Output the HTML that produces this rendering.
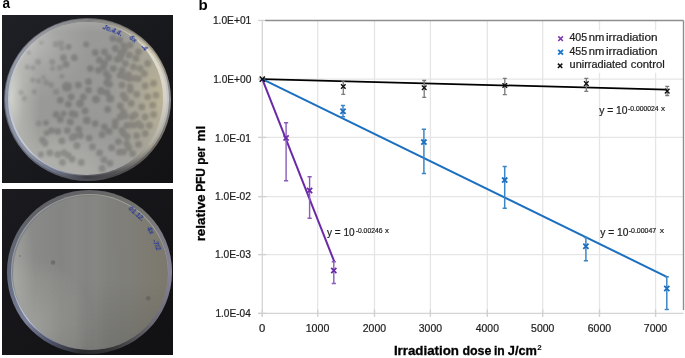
<!DOCTYPE html>
<html><head><meta charset="utf-8"><style>
html,body{margin:0;padding:0;background:#fff;width:685px;height:358px;overflow:hidden}
svg{position:absolute;left:0;top:0;display:block;font-family:"Liberation Sans", sans-serif;will-change:transform}
</style></head><body>
<div style="position:absolute;left:2px;top:15px;width:171px;height:167.5px;background:linear-gradient(135deg,#1f2026,#121214)"></div>
<div style="position:absolute;left:2px;top:189px;width:171px;height:166px;background:linear-gradient(135deg,#1a1a1f,#111113)"></div>
<div style="position:absolute;left:0;top:0;width:685px;height:358px;filter:blur(0.5px)">
<div style="position:absolute;left:3.50px;top:17.50px;width:167.40px;height:163.00px;border-radius:50%;background:conic-gradient(from 0deg,#626266 0deg,#767470 30deg,#9a9482 55deg,#8a8886 90deg,#6a6860 125deg,#48484c 160deg,#4a4a52 180deg,#5a5e6a 205deg,#6a6e7c 228deg,#5a6070 270deg,#686a72 315deg,#646468 360deg)"></div>
<div style="position:absolute;left:5.00px;top:19.00px;width:164.40px;height:160.00px;border-radius:50%;background:conic-gradient(from 0deg,#7e7e80 0deg,#a09c8e 30deg,#c8c2ac 55deg,#c4c4ca 90deg,#a09c92 125deg,#505054 160deg,#3e3e44 180deg,#70768a 205deg,#8e94a6 228deg,#8a92a2 270deg,#9a9ca4 315deg,#848486 360deg)"></div>
<div style="position:absolute;left:8.40px;top:21.90px;width:158.20px;height:153.80px;border-radius:50%;background:conic-gradient(from 0deg,#a2a2a0 0deg,#c0bcac 30deg,#e0dccc 55deg,#d4d2c8 90deg,#b0ac9e 125deg,#606064 160deg,#58585e 180deg,#a8aec0 205deg,#c8ccda 228deg,#c0c6d2 270deg,#c4c6ca 315deg,#a8a8a6 360deg)"></div>
<div style="position:absolute;left:10.00px;top:22.00px;width:152.60px;height:152.60px;border-radius:50%;background:radial-gradient(ellipse 36% 72% at 100% 48%, rgba(194,184,150,0.85), rgba(194,184,150,0.4) 45%, rgba(194,184,150,0) 100%),radial-gradient(ellipse 20% 70% at 0% 48%, rgba(214,214,208,0.95), rgba(214,214,208,0.35) 45%, rgba(214,214,208,0) 100%),radial-gradient(ellipse 40% 40% at 12% 12%, rgba(200,200,198,0.75), rgba(200,200,198,0.25) 50%, rgba(200,200,198,0) 100%),radial-gradient(ellipse 40% 30% at 22% 92%, rgba(186,186,180,0.6), rgba(186,186,180,0) 100%),radial-gradient(ellipse 55% 30% at 45% 100%, rgba(184,184,180,0.55), rgba(184,184,180,0) 100%),radial-gradient(ellipse 45% 7% at 50% 0%, rgba(170,170,168,0.7), rgba(170,170,168,0) 100%),#999997"></div>
<div style="position:absolute;left:7.00px;top:190.40px;width:165.00px;height:163.60px;border-radius:50%;background:conic-gradient(from 0deg,#646466 0deg,#74746f 40deg,#86849a 90deg,#6a6870 130deg,#343436 165deg,#2a2a2c 185deg,#50546a 210deg,#7a8098 232deg,#62687a 270deg,#606268 315deg,#646466 360deg)"></div>
<div style="position:absolute;left:10.60px;top:194.00px;width:157.80px;height:156.40px;border-radius:50%;background:conic-gradient(from 0deg,#9a9a94 0deg,#a8a8a0 40deg,#a8a6b4 90deg,#8a8890 130deg,#4a4a4c 165deg,#3a3a3c 185deg,#8a90a8 210deg,#c8cce0 232deg,#9a9ea4 270deg,#9a9c9c 315deg,#9a9a94 360deg)"></div>
<div style="position:absolute;left:12.10px;top:195.20px;width:155.40px;height:154.00px;border-radius:50%;background:conic-gradient(from 0deg,#7c7c78 0deg,#86847c 40deg,#8a8890 90deg,#7a7880 130deg,#404042 165deg,#303032 185deg,#6a7088 210deg,#9ca0b4 232deg,#80848c 270deg,#80828a 315deg,#7c7c78 360deg)"></div>
<div style="position:absolute;left:13.00px;top:195.50px;width:155.00px;height:154.60px;border-radius:50%;background:linear-gradient(90deg, rgba(255,255,255,0) 30%, rgba(255,255,255,0.045) 40%, rgba(255,255,255,0.02) 47%, rgba(255,255,255,0.045) 53%, rgba(255,255,255,0) 62%),radial-gradient(ellipse 40% 45% at 12% 85%, rgba(178,178,172,0.6), rgba(178,178,172,0) 100%),radial-gradient(ellipse 14% 60% at 0% 55%, rgba(180,180,176,0.6), rgba(180,180,176,0) 100%),linear-gradient(180deg, rgba(0,0,0,0) 55%, rgba(0,0,0,0.10) 100%),linear-gradient(90deg, #8e8e8c 0%, #838381 35%, #80807c 65%, #7c786c 100%)"></div>
</div>
<svg width="685" height="358" viewBox="0 0 685 358">
<defs>
<linearGradient id="bg1" x1="0" y1="0" x2="1" y2="1">
 <stop offset="0" stop-color="#1f2026"/><stop offset="1" stop-color="#121214"/>
</linearGradient>
<linearGradient id="bg2" x1="0" y1="0" x2="1" y2="1">
 <stop offset="0" stop-color="#1a1a1f"/><stop offset="1" stop-color="#111113"/>
</linearGradient>
<linearGradient id="rimg1" x1="0" y1="0.3" x2="1" y2="0.7">
 <stop offset="0" stop-color="#8a90a0"/><stop offset="0.5" stop-color="#a8a8a6"/><stop offset="1" stop-color="#c4bc9e"/>
</linearGradient>
<linearGradient id="rimh1" x1="0" y1="0.3" x2="1" y2="0.7">
 <stop offset="0" stop-color="#c8d0e0"/><stop offset="0.5" stop-color="#c0c0bc"/><stop offset="1" stop-color="#e0d8bc"/>
</linearGradient>
<linearGradient id="rimg2" x1="0" y1="0.3" x2="1" y2="0.7">
 <stop offset="0" stop-color="#8a90a0"/><stop offset="0.5" stop-color="#a4a4a2"/><stop offset="1" stop-color="#b8b49e"/>
</linearGradient>
<linearGradient id="rimh2" x1="0" y1="0.3" x2="1" y2="0.7">
 <stop offset="0" stop-color="#c8d0e0"/><stop offset="0.5" stop-color="#c0c0bc"/><stop offset="1" stop-color="#d8d4bc"/>
</linearGradient>
<radialGradient id="agar1" cx="0.3" cy="0.75" r="0.9">
 <stop offset="0" stop-color="#c6c5b8"/><stop offset="0.6" stop-color="#b0afaa"/><stop offset="1" stop-color="#a6a6a4"/>
</radialGradient>
<radialGradient id="agar2" cx="0.45" cy="0.75" r="0.85">
 <stop offset="0" stop-color="#b6b5a8"/><stop offset="1" stop-color="#a2a29f"/>
</radialGradient>
<clipPath id="clip1"><ellipse cx="86.3" cy="98.3" rx="76.3" ry="76.3"/></clipPath>
<filter id="hblur" x="-20%" y="-20%" width="140%" height="140%"><feGaussianBlur stdDeviation="0.35"/></filter>
<filter id="sblur" x="-50%" y="-50%" width="200%" height="200%"><feGaussianBlur stdDeviation="0.6"/></filter>
<filter id="pblur" x="-10%" y="-10%" width="120%" height="120%"><feGaussianBlur stdDeviation="1.0"/></filter>
</defs>
<g clip-path="url(#clip1)"><g filter="url(#pblur)" opacity="0.17" fill="#303034"><circle cx="41.4" cy="42.7" r="2.0"/><circle cx="55.6" cy="44.3" r="3.0"/><circle cx="28.8" cy="52.7" r="2.0"/><circle cx="38" cy="62" r="3.0"/><circle cx="52.3" cy="62" r="3.0"/><circle cx="27.1" cy="67" r="2.5"/><circle cx="33" cy="67.8" r="2.5"/><circle cx="59.8" cy="67.8" r="3.0"/><circle cx="60.9" cy="43.5" r="3.0"/><circle cx="61.8" cy="48.2" r="2.5"/><circle cx="52.5" cy="68.6" r="2.5"/><circle cx="61.8" cy="76.2" r="2.5"/><circle cx="32.6" cy="80" r="2.5"/><circle cx="38.5" cy="80.9" r="2.5"/><circle cx="43.5" cy="77.5" r="2.0"/><circle cx="46" cy="82.6" r="3.0"/><circle cx="51.1" cy="85.1" r="3.0"/><circle cx="56.1" cy="91.8" r="3.0"/><circle cx="20.9" cy="92.6" r="2.5"/><circle cx="34.3" cy="91.8" r="2.5"/><circle cx="24.3" cy="98.5" r="2.5"/><circle cx="38.5" cy="123.6" r="3.0"/></g><g filter="url(#pblur)" opacity="0.25" fill="#303034"><circle cx="68.5" cy="46.8" r="2.9"/><circle cx="86.1" cy="44.3" r="2.9"/><circle cx="63.4" cy="57.7" r="3.4"/><circle cx="66" cy="64.4" r="3.4"/><circle cx="74.3" cy="57.7" r="3.4"/><circle cx="90.3" cy="68.6" r="3.4"/><circle cx="95.3" cy="52.7" r="3.4"/><circle cx="99.5" cy="60.2" r="3.4"/><circle cx="104.5" cy="51.9" r="3.4"/><circle cx="108.7" cy="57.7" r="3.4"/><circle cx="104.5" cy="63.3" r="3.4"/><circle cx="98.6" cy="70.3" r="3.4"/><circle cx="106.2" cy="73.6" r="3.4"/><circle cx="112.9" cy="38.4" r="3.4"/><circle cx="115.4" cy="48.5" r="3.4"/><circle cx="119.6" cy="40.1" r="3.4"/><circle cx="121.3" cy="53.5" r="3.9"/><circle cx="117.1" cy="59.4" r="3.4"/><circle cx="123.8" cy="46" r="3.4"/><circle cx="125.5" cy="63.6" r="3.4"/><circle cx="122.1" cy="70.3" r="3.4"/><circle cx="124.3" cy="49.3" r="3.4"/><circle cx="130.2" cy="45.1" r="3.4"/><circle cx="120.1" cy="58.5" r="3.4"/><circle cx="129.3" cy="55.2" r="3.4"/><circle cx="136" cy="58.5" r="3.4"/><circle cx="138.5" cy="51.8" r="3.4"/><circle cx="103.4" cy="66.9" r="3.4"/><circle cx="113.4" cy="68.6" r="3.4"/><circle cx="133.5" cy="66.9" r="3.4"/><circle cx="140.2" cy="68.6" r="3.4"/><circle cx="108.4" cy="76.9" r="3.4"/><circle cx="120.1" cy="75.3" r="3.4"/><circle cx="129.3" cy="78.6" r="3.4"/><circle cx="138.5" cy="78.6" r="3.4"/><circle cx="144.4" cy="73.6" r="3.4"/><circle cx="147.7" cy="63.5" r="3.4"/><circle cx="106.7" cy="82.8" r="3.4"/><circle cx="67" cy="86.8" r="4.9"/><circle cx="60.3" cy="100.2" r="3.4"/><circle cx="71.2" cy="96.8" r="3.4"/><circle cx="56.1" cy="114.4" r="3.4"/><circle cx="63.6" cy="113.6" r="2.9"/><circle cx="46" cy="122.8" r="2.9"/><circle cx="60.3" cy="119.4" r="3.4"/><circle cx="70.3" cy="121.9" r="3.4"/><circle cx="72" cy="113.6" r="3.4"/><circle cx="78.4" cy="85.1" r="3.4"/><circle cx="88.5" cy="81.7" r="3.4"/><circle cx="88.5" cy="90.1" r="3.4"/><circle cx="109.4" cy="84.2" r="3.4"/><circle cx="101" cy="90.9" r="3.9"/><circle cx="106.9" cy="92.6" r="3.4"/><circle cx="110.2" cy="98.5" r="3.9"/><circle cx="96" cy="99.3" r="3.9"/><circle cx="83.4" cy="96.8" r="3.4"/><circle cx="80.1" cy="103.5" r="3.9"/><circle cx="68.4" cy="104.3" r="3.4"/><circle cx="85.1" cy="111" r="3.4"/><circle cx="75" cy="114.4" r="3.4"/><circle cx="107.7" cy="109.4" r="3.4"/><circle cx="120.3" cy="106" r="3.4"/><circle cx="125.3" cy="98.5" r="3.4"/><circle cx="122" cy="85.1" r="3.4"/><circle cx="128.7" cy="75" r="3.4"/><circle cx="130.3" cy="90.1" r="3.4"/><circle cx="131.2" cy="103.5" r="3.4"/><circle cx="86.8" cy="120.3" r="3.9"/><circle cx="95.2" cy="123.6" r="3.4"/><circle cx="104.4" cy="127" r="3.4"/><circle cx="115.3" cy="121.9" r="3.4"/><circle cx="120.3" cy="116.9" r="3.4"/><circle cx="127" cy="125.3" r="3.4"/><circle cx="132" cy="116.9" r="3.4"/><circle cx="125" cy="76.7" r="3.4"/><circle cx="135.1" cy="78.4" r="3.4"/><circle cx="130.1" cy="86.8" r="3.4"/><circle cx="145.2" cy="85.9" r="3.4"/><circle cx="153.6" cy="83.4" r="3.4"/><circle cx="123.4" cy="95.2" r="3.4"/><circle cx="136.8" cy="94.3" r="3.4"/><circle cx="147.7" cy="96.8" r="3.4"/><circle cx="156.1" cy="95.2" r="3.4"/><circle cx="141.8" cy="106.9" r="3.4"/><circle cx="152.7" cy="105.2" r="3.4"/><circle cx="123.4" cy="111.9" r="3.4"/><circle cx="145.2" cy="117" r="3.4"/><circle cx="153.6" cy="114.5" r="3.4"/><circle cx="138.5" cy="123.7" r="3.4"/><circle cx="149.4" cy="125.4" r="3.4"/><circle cx="51.4" cy="130.6" r="3.4"/><circle cx="57.8" cy="131.4" r="3.4"/><circle cx="67.3" cy="130.6" r="3.4"/><circle cx="46.6" cy="133" r="2.9"/><circle cx="42.6" cy="140.1" r="3.4"/><circle cx="45" cy="143.3" r="3.4"/><circle cx="61.8" cy="140.9" r="3.4"/><circle cx="72.1" cy="137.7" r="3.4"/><circle cx="76.9" cy="145.7" r="3.4"/><circle cx="49.8" cy="152.9" r="3.4"/><circle cx="57.8" cy="154.5" r="3.4"/><circle cx="64.1" cy="152.9" r="3.4"/><circle cx="68.1" cy="155.3" r="3.4"/><circle cx="72.1" cy="159.2" r="3.4"/><circle cx="62.5" cy="162.4" r="3.4"/><circle cx="41" cy="154.5" r="2.9"/><circle cx="78.7" cy="129.5" r="3.4"/><circle cx="74.3" cy="136.5" r="3.4"/><circle cx="80.4" cy="135.6" r="3.4"/><circle cx="89.1" cy="138.2" r="3.4"/><circle cx="102.1" cy="134.7" r="3.4"/><circle cx="109" cy="131.3" r="3.4"/><circle cx="115.1" cy="126.1" r="3.4"/><circle cx="122" cy="130.4" r="3.4"/><circle cx="127.2" cy="136.5" r="3.4"/><circle cx="134.1" cy="125.2" r="3.4"/><circle cx="136.7" cy="135.6" r="3.4"/><circle cx="92.5" cy="146.9" r="3.4"/><circle cx="99.5" cy="152.9" r="3.4"/><circle cx="111.6" cy="147.7" r="3.4"/><circle cx="118.5" cy="141.7" r="3.4"/><circle cx="119.4" cy="152.1" r="3.4"/><circle cx="128.9" cy="147.7" r="3.4"/><circle cx="81.3" cy="162.5" r="3.4"/><circle cx="103.8" cy="159.9" r="3.4"/><circle cx="109.9" cy="163.3" r="3.4"/><circle cx="102.1" cy="168.5" r="3.4"/><circle cx="125" cy="115.9" r="3.4"/><circle cx="135.1" cy="115" r="3.4"/><circle cx="130.1" cy="125.1" r="3.4"/><circle cx="141" cy="125.9" r="3.4"/><circle cx="123.4" cy="133.5" r="3.4"/><circle cx="145.2" cy="133.5" r="3.4"/><circle cx="126.7" cy="143.6" r="3.4"/><circle cx="138.5" cy="144.4" r="3.4"/><circle cx="123.4" cy="151.9" r="3.4"/><circle cx="132.6" cy="153.6" r="3.4"/></g></g>
<text fill="#23349a" font-size="6.6" font-style="italic" font-weight="bold" filter="url(#hblur)" transform="translate(102.2,28.6) rotate(22)">Jo.4.4.</text>
<text fill="#23349a" font-size="6.6" font-style="italic" font-weight="bold" filter="url(#hblur)" transform="translate(128.8,38.6) rotate(38)">6x</text>
<text fill="#23349a" font-size="6.6" font-style="italic" font-weight="bold" filter="url(#hblur)" transform="translate(140.6,47.2) rotate(45)">-4</text>
<text fill="#23349a" font-size="6.6" font-style="italic" font-weight="bold" filter="url(#hblur)" transform="translate(128.2,209.2) rotate(42)">01.12.</text>
<text fill="#23349a" font-size="6.6" font-style="italic" font-weight="bold" filter="url(#hblur)" transform="translate(146.6,228.6) rotate(58)">4x</text>
<text fill="#23349a" font-size="6.6" font-style="italic" font-weight="bold" filter="url(#hblur)" transform="translate(152.4,240.4) rotate(68)">-7/2</text>
<g filter="url(#sblur)" fill="#505052" opacity="0.42"><circle cx="53" cy="262.5" r="2.3"/><circle cx="148.2" cy="298.2" r="2.3"/><circle cx="19.8" cy="256" r="0.9"/></g>
<line x1="317.7" y1="20.45" x2="317.7" y2="316.8" stroke="#e5e5e5" stroke-width="1.3"/>
<line x1="374.5" y1="20.45" x2="374.5" y2="316.8" stroke="#e5e5e5" stroke-width="1.3"/>
<line x1="430.4" y1="20.45" x2="430.4" y2="316.8" stroke="#e5e5e5" stroke-width="1.3"/>
<line x1="487.3" y1="20.45" x2="487.3" y2="316.8" stroke="#e5e5e5" stroke-width="1.3"/>
<line x1="542.7" y1="20.45" x2="542.7" y2="316.8" stroke="#e5e5e5" stroke-width="1.3"/>
<line x1="599.5" y1="20.45" x2="599.5" y2="316.8" stroke="#e5e5e5" stroke-width="1.3"/>
<line x1="655.6" y1="20.45" x2="655.6" y2="316.8" stroke="#e5e5e5" stroke-width="1.3"/>
<line x1="258.2" y1="79.1" x2="683.5" y2="79.1" stroke="#e5e5e5" stroke-width="1.3"/>
<line x1="258.2" y1="137.4" x2="683.5" y2="137.4" stroke="#e5e5e5" stroke-width="1.3"/>
<line x1="258.2" y1="196.6" x2="683.5" y2="196.6" stroke="#e5e5e5" stroke-width="1.3"/>
<line x1="258.2" y1="254.6" x2="683.5" y2="254.6" stroke="#e5e5e5" stroke-width="1.3"/>
<line x1="262.3" y1="20.45" x2="262.3" y2="316.8" stroke="#d4d4d4" stroke-width="1.3"/>
<line x1="258.2" y1="313.4" x2="683.5" y2="313.4" stroke="#d4d4d4" stroke-width="1.3"/>
<line x1="258.2" y1="20.45" x2="266.3" y2="20.45" stroke="#d0d0d0" stroke-width="1.3"/>
<line x1="258.2" y1="79.1" x2="266.3" y2="79.1" stroke="#d0d0d0" stroke-width="1.3"/>
<line x1="258.2" y1="137.4" x2="266.3" y2="137.4" stroke="#d0d0d0" stroke-width="1.3"/>
<line x1="258.2" y1="196.6" x2="266.3" y2="196.6" stroke="#d0d0d0" stroke-width="1.3"/>
<line x1="258.2" y1="254.6" x2="266.3" y2="254.6" stroke="#d0d0d0" stroke-width="1.3"/>
<line x1="258.2" y1="313.4" x2="266.3" y2="313.4" stroke="#d0d0d0" stroke-width="1.3"/>
<line x1="262.3" y1="309.4" x2="262.3" y2="316.8" stroke="#d0d0d0" stroke-width="1.3"/>
<line x1="317.7" y1="309.4" x2="317.7" y2="316.8" stroke="#d0d0d0" stroke-width="1.3"/>
<line x1="374.5" y1="309.4" x2="374.5" y2="316.8" stroke="#d0d0d0" stroke-width="1.3"/>
<line x1="430.4" y1="309.4" x2="430.4" y2="316.8" stroke="#d0d0d0" stroke-width="1.3"/>
<line x1="487.3" y1="309.4" x2="487.3" y2="316.8" stroke="#d0d0d0" stroke-width="1.3"/>
<line x1="542.7" y1="309.4" x2="542.7" y2="316.8" stroke="#d0d0d0" stroke-width="1.3"/>
<line x1="599.5" y1="309.4" x2="599.5" y2="316.8" stroke="#d0d0d0" stroke-width="1.3"/>
<line x1="655.6" y1="309.4" x2="655.6" y2="316.8" stroke="#d0d0d0" stroke-width="1.3"/>
<line x1="265.3" y1="20.45" x2="683.5" y2="20.45" stroke="#8e8e8e" stroke-width="1.4"/>
<line x1="683.5" y1="20.45" x2="683.5" y2="310" stroke="#8e8e8e" stroke-width="1.4"/>
<rect x="546" y="30.5" width="125" height="42.2" fill="#fff"/>
<line x1="262.3" y1="79.1" x2="667" y2="89.6" stroke="#000" stroke-width="1.75"/>
<line x1="262.3" y1="79.1" x2="666.8" y2="276.8" stroke="#1b6fc0" stroke-width="2"/>
<line x1="262.3" y1="79.1" x2="334.3" y2="261.7" stroke="#6a2aa8" stroke-width="2"/>
<path d="M343.3,80.9V94.4M341.3,80.9H345.3M341.3,94.4H345.3" stroke="#7a7a7a" stroke-width="1.3" fill="none"/>
<path d="M424.2,80.5V97.4M422.2,80.5H426.2M422.2,97.4H426.2" stroke="#7a7a7a" stroke-width="1.3" fill="none"/>
<path d="M504.8,78.4V94.7M502.8,78.4H506.8M502.8,94.7H506.8" stroke="#7a7a7a" stroke-width="1.3" fill="none"/>
<path d="M586.3,78.4V91.4M584.3,78.4H588.3M584.3,91.4H588.3" stroke="#7a7a7a" stroke-width="1.3" fill="none"/>
<path d="M667.2,86.3V95.5M665.2,86.3H669.2M665.2,95.5H669.2" stroke="#7a7a7a" stroke-width="1.3" fill="none"/>
<path d="M343.0,105.6V116.8M340.9,105.6H345.1M340.9,116.8H345.1" stroke="#3d86c6" stroke-width="1.5" fill="none"/>
<path d="M423.9,129.2V173.6M421.79999999999995,129.2H426.0M421.79999999999995,173.6H426.0" stroke="#3d86c6" stroke-width="1.5" fill="none"/>
<path d="M504.7,166.4V208.3M502.59999999999997,166.4H506.8M502.59999999999997,208.3H506.8" stroke="#3d86c6" stroke-width="1.5" fill="none"/>
<path d="M585.9,237.6V260.7M583.8,237.6H588.0M583.8,260.7H588.0" stroke="#3d86c6" stroke-width="1.5" fill="none"/>
<path d="M666.8,276.8V309.4M664.6999999999999,276.8H668.9M664.6999999999999,309.4H668.9" stroke="#3d86c6" stroke-width="1.5" fill="none"/>
<path d="M286.1,122.8V180.8M284.0,122.8H288.20000000000005M284.0,180.8H288.20000000000005" stroke="#8a5cbc" stroke-width="1.4" fill="none"/>
<path d="M309.6,176.8V218.3M307.5,176.8H311.70000000000005M307.5,218.3H311.70000000000005" stroke="#8a5cbc" stroke-width="1.4" fill="none"/>
<path d="M333.8,261.7V283.5M331.7,261.7H335.90000000000003M331.7,283.5H335.90000000000003" stroke="#8a5cbc" stroke-width="1.4" fill="none"/>
<path d="M341.0,84.2L345.6,88.8M341.0,88.8L345.6,84.2" stroke="#111" stroke-width="1.4" fill="none"/>
<path d="M421.9,85.5L426.5,90.1M421.9,90.1L426.5,85.5" stroke="#111" stroke-width="1.4" fill="none"/>
<path d="M502.5,83.2L507.1,87.8M502.5,87.8L507.1,83.2" stroke="#111" stroke-width="1.4" fill="none"/>
<path d="M584.0,81.3L588.5999999999999,85.89999999999999M584.0,85.89999999999999L588.5999999999999,81.3" stroke="#111" stroke-width="1.4" fill="none"/>
<path d="M664.9000000000001,88.8L669.5,93.39999999999999M664.9000000000001,93.39999999999999L669.5,88.8" stroke="#111" stroke-width="1.4" fill="none"/>
<path d="M340.4,108.60000000000001L345.6,113.8M340.4,113.8L345.6,108.60000000000001" stroke="#1b6fc0" stroke-width="1.8" fill="none"/>
<path d="M421.29999999999995,139.5L426.5,144.7M421.29999999999995,144.7L426.5,139.5" stroke="#1b6fc0" stroke-width="1.8" fill="none"/>
<path d="M502.09999999999997,177.5L507.3,182.7M502.09999999999997,182.7L507.3,177.5" stroke="#1b6fc0" stroke-width="1.8" fill="none"/>
<path d="M583.3,243.70000000000002L588.5,248.9M583.3,248.9L588.5,243.70000000000002" stroke="#1b6fc0" stroke-width="1.8" fill="none"/>
<path d="M664.1999999999999,285.9L669.4,291.1M664.1999999999999,291.1L669.4,285.9" stroke="#1b6fc0" stroke-width="1.8" fill="none"/>
<path d="M283.5,135.3L288.70000000000005,140.5M283.5,140.5L288.70000000000005,135.3" stroke="#6a2aa8" stroke-width="1.7" fill="none"/>
<path d="M307.0,187.9L312.20000000000005,193.1M307.0,193.1L312.20000000000005,187.9" stroke="#6a2aa8" stroke-width="1.7" fill="none"/>
<path d="M331.2,267.9L336.40000000000003,273.1M331.2,273.1L336.40000000000003,267.9" stroke="#6a2aa8" stroke-width="1.7" fill="none"/>
<path d="M259.7,76.5L264.90000000000003,81.69999999999999M259.7,81.69999999999999L264.90000000000003,76.5" stroke="#111" stroke-width="1.6" fill="none"/>
<path d="M558.3000000000001,36.400000000000006L562.9,41.0M558.3000000000001,41.0L562.9,36.400000000000006" stroke="#7e3cb4" stroke-width="1.6" fill="none"/>
<path d="M558.2,49.800000000000004L563.0,54.6M558.2,54.6L563.0,49.800000000000004" stroke="#1b78d0" stroke-width="1.9" fill="none"/>
<path d="M557.9,63.599999999999994L562.3000000000001,68.0M557.9,68.0L562.3000000000001,63.599999999999994" stroke="#111" stroke-width="1.5" fill="none"/>
<text x="569.46" y="41.4" font-size="10.4" textLength="17.67" lengthAdjust="spacingAndGlyphs" fill="#1e1e1e" stroke="#1e1e1e" stroke-width="0.22">405</text>
<text x="588.84" y="41.4" font-size="10.4" textLength="15.61" lengthAdjust="spacingAndGlyphs" fill="#1e1e1e" stroke="#1e1e1e" stroke-width="0.22">nm</text>
<text x="605.91" y="41.4" font-size="10.4" textLength="51.64" lengthAdjust="spacingAndGlyphs" fill="#1e1e1e" stroke="#1e1e1e" stroke-width="0.22">irradiation</text>
<text x="569.46" y="55.2" font-size="10.4" textLength="17.67" lengthAdjust="spacingAndGlyphs" fill="#1e1e1e" stroke="#1e1e1e" stroke-width="0.22">455</text>
<text x="588.84" y="55.2" font-size="10.4" textLength="15.61" lengthAdjust="spacingAndGlyphs" fill="#1e1e1e" stroke="#1e1e1e" stroke-width="0.22">nm</text>
<text x="605.91" y="55.2" font-size="10.4" textLength="51.64" lengthAdjust="spacingAndGlyphs" fill="#1e1e1e" stroke="#1e1e1e" stroke-width="0.22">irradiation</text>
<text x="569.59" y="68.1" font-size="10.4" textLength="57.61" lengthAdjust="spacingAndGlyphs" fill="#1e1e1e" stroke="#1e1e1e" stroke-width="0.22">unirradiated</text>
<text x="630.82" y="68.1" font-size="10.4" textLength="34.04" lengthAdjust="spacingAndGlyphs" fill="#1e1e1e" stroke="#1e1e1e" stroke-width="0.22">control</text>
<text x="212.93" y="24.2" font-size="10.4" textLength="38.36" lengthAdjust="spacingAndGlyphs" fill="#1e1e1e" stroke="#1e1e1e" stroke-width="0.22">1.0E+01</text>
<text x="213.24" y="83.0" font-size="10.4" textLength="38.05" lengthAdjust="spacingAndGlyphs" fill="#1e1e1e" stroke="#1e1e1e" stroke-width="0.22">1.0E+00</text>
<text x="215.03" y="141.5" font-size="10.4" textLength="35.96" lengthAdjust="spacingAndGlyphs" fill="#1e1e1e" stroke="#1e1e1e" stroke-width="0.22">1.0E-01</text>
<text x="215.03" y="199.7" font-size="10.4" textLength="35.98" lengthAdjust="spacingAndGlyphs" fill="#1e1e1e" stroke="#1e1e1e" stroke-width="0.22">1.0E-02</text>
<text x="215.03" y="257.8" font-size="10.4" textLength="35.9" lengthAdjust="spacingAndGlyphs" fill="#1e1e1e" stroke="#1e1e1e" stroke-width="0.22">1.0E-03</text>
<text x="215.44" y="316.7" font-size="10.4" textLength="35.33" lengthAdjust="spacingAndGlyphs" fill="#1e1e1e" stroke="#1e1e1e" stroke-width="0.22">1.0E-04</text>
<text x="258.95" y="332" font-size="10.4" textLength="6.29" lengthAdjust="spacingAndGlyphs" fill="#1e1e1e" stroke="#1e1e1e" stroke-width="0.22">0</text>
<text x="305.7" y="332" font-size="10.4" textLength="23.62" lengthAdjust="spacingAndGlyphs" fill="#1e1e1e" stroke="#1e1e1e" stroke-width="0.22">1000</text>
<text x="362.78" y="332" font-size="10.4" textLength="23.34" lengthAdjust="spacingAndGlyphs" fill="#1e1e1e" stroke="#1e1e1e" stroke-width="0.22">2000</text>
<text x="418.81" y="332" font-size="10.4" textLength="23.21" lengthAdjust="spacingAndGlyphs" fill="#1e1e1e" stroke="#1e1e1e" stroke-width="0.22">3000</text>
<text x="475.87" y="332" font-size="10.4" textLength="23.04" lengthAdjust="spacingAndGlyphs" fill="#1e1e1e" stroke="#1e1e1e" stroke-width="0.22">4000</text>
<text x="531.08" y="332" font-size="10.4" textLength="23.23" lengthAdjust="spacingAndGlyphs" fill="#1e1e1e" stroke="#1e1e1e" stroke-width="0.22">5000</text>
<text x="587.78" y="332" font-size="10.4" textLength="23.34" lengthAdjust="spacingAndGlyphs" fill="#1e1e1e" stroke="#1e1e1e" stroke-width="0.22">6000</text>
<text x="643.88" y="332" font-size="10.4" textLength="23.34" lengthAdjust="spacingAndGlyphs" fill="#1e1e1e" stroke="#1e1e1e" stroke-width="0.22">7000</text>
<text x="393.9" y="354.8" font-size="13.0" font-weight="bold" textLength="65.1" lengthAdjust="spacingAndGlyphs" fill="#000" stroke="#000" stroke-width="0.3">Irradiation</text>
<text x="462.4" y="354.8" font-size="13.0" font-weight="bold" textLength="29.02" lengthAdjust="spacingAndGlyphs" fill="#000" stroke="#000" stroke-width="0.3">dose</text>
<text x="493.95" y="354.8" font-size="13.0" font-weight="bold" textLength="10.79" lengthAdjust="spacingAndGlyphs" fill="#000" stroke="#000" stroke-width="0.3">in</text>
<text x="507.81" y="354.8" font-size="13.0" font-weight="bold" textLength="29.18" lengthAdjust="spacingAndGlyphs" fill="#000" stroke="#000" stroke-width="0.3">J/cm</text>
<text x="537.32" y="349.7" font-size="8.0" font-weight="bold" textLength="4.5" lengthAdjust="spacingAndGlyphs" fill="#000">2</text>
<g transform="translate(204.8,0) rotate(-90)"><text x="-241.37" y="0" font-size="13.0" font-weight="bold" textLength="46.91" lengthAdjust="spacingAndGlyphs" fill="#000" stroke="#000" stroke-width="0.3">relative</text><text x="-191.8" y="0" font-size="13.0" font-weight="bold" textLength="23.71" lengthAdjust="spacingAndGlyphs" fill="#000" stroke="#000" stroke-width="0.3">PFU</text><text x="-164.76" y="0" font-size="13.0" font-weight="bold" textLength="18.12" lengthAdjust="spacingAndGlyphs" fill="#000" stroke="#000" stroke-width="0.3">per</text><text x="-141.48" y="0" font-size="13.0" font-weight="bold" textLength="15.71" lengthAdjust="spacingAndGlyphs" fill="#000" stroke="#000" stroke-width="0.3">ml</text></g>
<text x="599.17" y="114.0" font-size="10.4" textLength="28.43" lengthAdjust="spacingAndGlyphs" fill="#1e1e1e" stroke="#1e1e1e" stroke-width="0.22">y = 10</text><text x="627.99" y="110.8" font-size="7.3" textLength="30.6" lengthAdjust="spacingAndGlyphs" fill="#1e1e1e" stroke="#1e1e1e" stroke-width="0.22">-0.000024</text><text x="660.9" y="110.8" font-size="7.3" textLength="4.0" lengthAdjust="spacingAndGlyphs" fill="#1e1e1e" stroke="#1e1e1e" stroke-width="0.22">x</text>
<text x="600.27" y="236.0" font-size="10.4" textLength="28.23" lengthAdjust="spacingAndGlyphs" fill="#1e1e1e" stroke="#1e1e1e" stroke-width="0.22">y = 10</text><text x="628.69" y="232.8" font-size="7.3" textLength="27.57" lengthAdjust="spacingAndGlyphs" fill="#1e1e1e" stroke="#1e1e1e" stroke-width="0.22">-0.00047</text><text x="659.69" y="232.8" font-size="7.3" textLength="4.32" lengthAdjust="spacingAndGlyphs" fill="#1e1e1e" stroke="#1e1e1e" stroke-width="0.22">x</text>
<text x="326.97" y="236.0" font-size="10.4" textLength="27.62" lengthAdjust="spacingAndGlyphs" fill="#1e1e1e" stroke="#1e1e1e" stroke-width="0.22">y = 10</text><text x="355.69" y="232.8" font-size="7.3" textLength="26.8" lengthAdjust="spacingAndGlyphs" fill="#1e1e1e" stroke="#1e1e1e" stroke-width="0.22">-0.00246</text><text x="385.0" y="232.8" font-size="7.3" textLength="3.89" lengthAdjust="spacingAndGlyphs" fill="#1e1e1e" stroke="#1e1e1e" stroke-width="0.22">x</text>
<text x="2.44" y="8.05" font-size="14" font-weight="bold" textLength="7.57" lengthAdjust="spacingAndGlyphs" fill="#000">a</text>
<text x="198.52" y="9.7" font-size="14" font-weight="bold" textLength="9.19" lengthAdjust="spacingAndGlyphs" fill="#000">b</text>
</svg>
</body></html>
